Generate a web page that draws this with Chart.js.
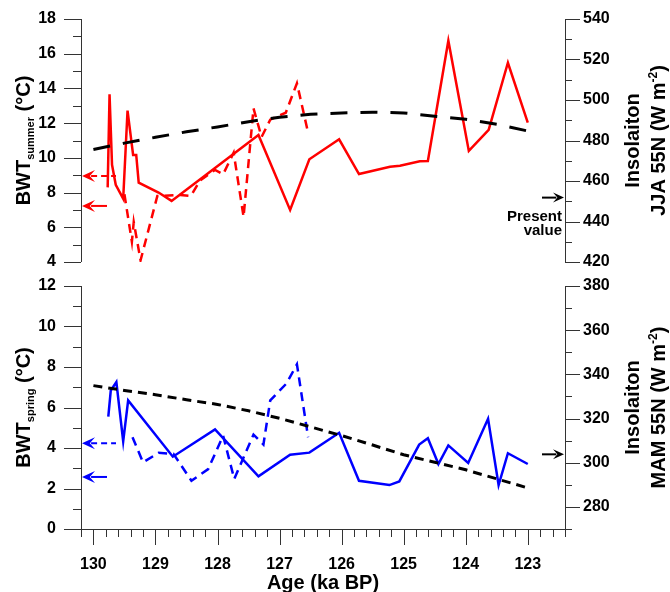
<!DOCTYPE html>
<html lang="en">
<head>
<meta charset="UTF-8">
<title>BWT and insolation, last interglacial</title>
<script src="https://cdn.jsdelivr.net/npm/chart.js@4.4.1/dist/chart.umd.min.js"></script>
<style>
  body { margin: 0; background: #fff; }
  #wrap { position: relative; width: 670px; height: 592px; }
  #top { position: absolute; left: 0; top: 0; }
  #bot { position: absolute; left: 0; top: 270px; }
</style>
</head>
<body>
<div id="wrap">
  <canvas id="top" width="670" height="280"></canvas>
  <canvas id="bot" width="670" height="322"></canvas>
</div>
<script>
// ---- data ----
var xTicks = [130, 129, 128, 127, 126, 125, 124, 123];
var sumTicks = [4, 6, 8, 10, 12, 14, 16, 18];
var jjaTicks = [420, 440, 460, 480, 500, 520, 540];
var sprTicks = [0, 2, 4, 6, 8, 10, 12];
var mamTicks = [280, 300, 320, 340, 360, 380];

// BWT summer, solid record
var ageSumSolid = [129.77, 129.74, 129.70, 129.64, 129.52, 129.45, 129.36, 129.31, 129.27, 128.95, 128.74, 127.34, 126.83, 126.52, 126.04, 125.72, 125.22, 125.06, 124.74, 124.61, 124.28, 123.95, 123.63, 123.32, 123.00];
var bwtSumSolid = [8.3, 13.66, 9.6, 8.45, 7.65, 12.72, 10.17, 10.17, 8.57, 8.0, 7.52, 11.32, 7.0, 9.92, 11.07, 9.07, 9.49, 9.55, 9.80, 9.82, 16.75, 10.40, 11.61, 15.48, 12.03];
// BWT summer, dashed record
var ageSumDash = [129.50, 129.38, 129.35, 129.24, 128.97, 128.60, 128.43, 128.28, 128.04, 127.91, 127.74, 127.58, 127.42, 127.29, 127.15, 126.90, 126.72, 126.54];
var bwtSumDash = [7.9, 5.17, 6.3, 4.1, 7.8, 7.86, 7.8, 8.7, 9.3, 9.05, 10.3, 6.6, 12.85, 11.2, 12.2, 12.6, 14.3, 11.45];

// BWT spring, solid record
var ageSprSolid = [129.76, 129.72, 129.63, 129.52, 129.44, 128.72, 128.04, 127.34, 126.83, 126.52, 126.04, 125.72, 125.23, 125.07, 124.75, 124.61, 124.44, 124.28, 123.96, 123.64, 123.47, 123.32, 123.00];
var bwtSprSolid = [5.55, 6.84, 7.26, 4.33, 6.35, 3.57, 4.92, 2.60, 3.67, 3.77, 4.75, 2.38, 2.17, 2.35, 4.17, 4.48, 3.21, 4.13, 3.26, 5.44, 2.17, 3.74, 3.21];
// BWT spring, dashed record
var ageSprDash = [129.37, 129.20, 128.95, 128.71, 128.42, 128.15, 127.91, 127.73, 127.42, 127.26, 127.15, 126.89, 126.72, 126.54];
var bwtSprDash = [4.53, 3.29, 3.76, 3.71, 2.38, 2.96, 4.61, 2.47, 4.66, 4.17, 6.35, 7.18, 8.13, 4.53];

// insolation 55N
var insAge = [130, 129.5, 129, 128.5, 128, 127.5, 127, 126.5, 126, 125.5, 125, 124.5, 124, 123.5, 123];
var insJJA = [475.6, 478.7, 481.6, 484.3, 486.7, 489.3, 491.5, 493.0, 493.6, 494.0, 493.6, 492.0, 490.5, 488.0, 484.7];
var insMAM = [334.9, 332.7, 330.8, 328.5, 326.4, 323.5, 320.1, 316.2, 312.3, 308.0, 303.6, 300.2, 296.8, 292.7, 288.6];

// present values (arrows)
var presentSum = [8.96, 7.23];   // dashed, solid
var presentSpr = [4.23, 2.57];   // dashed, solid
var presentJJA = 451.8;
var presentMAM = 303.8;

var xMin = 122.4, xMax = 130.2;
var RED = '#ff0000', BLUE = '#0000ff';
var FAM = '"Liberation Sans", Arial, Helvetica, sans-serif';
var AXC = '#333';

function pts(xs, ys) {
    return xs.map(function (x, i) { return { x: x, y: ys[i] }; });
}
function setTicks(arr) {
    return function (s) { s.ticks = arr.map(function (v) { return { value: v }; }); };
}

function arrow(ctx, tipX, y, dir, len, headLen, headW, color, dashed) {
    ctx.save();
    ctx.strokeStyle = color; ctx.fillStyle = color; ctx.lineWidth = 2;
    ctx.setLineDash(dashed ? [6, 4] : []);
    ctx.beginPath();
    ctx.moveTo(tipX - dir * headLen * 0.7, y);
    ctx.lineTo(tipX - dir * len, y);
    ctx.stroke();
    ctx.setLineDash([]);
    ctx.beginPath();
    ctx.moveTo(tipX, y);
    ctx.lineTo(tipX - dir * headLen, y - headW);
    ctx.lineTo(tipX - dir * headLen * 0.6, y);
    ctx.lineTo(tipX - dir * headLen, y + headW);
    ctx.closePath();
    ctx.fill();
    ctx.restore();
}

// parts: [text, font, baseline offset]
function vtitle(ctx, cx, cy, parts) {
    ctx.save();
    ctx.translate(cx, cy);
    ctx.rotate(-Math.PI / 2);
    ctx.fillStyle = '#000';
    ctx.textAlign = 'left';
    ctx.textBaseline = 'alphabetic';
    var total = 0;
    parts.forEach(function (p) { ctx.font = p[1]; p.w = ctx.measureText(p[0]).width; total += p.w; });
    var x = -total / 2;
    parts.forEach(function (p) { ctx.font = p[1]; ctx.fillText(p[0], x, p[2]); x += p.w; });
    ctx.restore();
}

function drawTicks(ctx, scale, vertical, side, minor, major, majLen, minLen) {
    for (var v = scale.min; v <= scale.max + 1e-6; v += minor) {
        var val = Math.round(v * 1000) / 1000;
        var isMajor = Math.abs(val / major - Math.round(val / major)) < 1e-6;
        var len = isMajor ? majLen : minLen;
        var p = Math.round(scale.getPixelForValue(val)) + 0.5;
        ctx.beginPath();
        if (vertical) {
            var x0 = side === 'left' ? scale.right : scale.left;
            ctx.moveTo(x0, p);
            ctx.lineTo(side === 'left' ? x0 - len : x0 + len, p);
        } else {
            ctx.moveTo(p, scale.top);
            ctx.lineTo(p, scale.top + len);
        }
        ctx.stroke();
    }
}

var deco = {
    id: 'deco',
    afterDraw: function (chart, args, o) {
        var ctx = chart.ctx, a = chart.chartArea;
        var yl = chart.scales.y, yr = chart.scales.y1;
        ctx.save();
        ctx.strokeStyle = AXC;
        ctx.lineWidth = 1;
        ctx.beginPath();
        ctx.moveTo(a.left + 0.5, a.top); ctx.lineTo(a.left + 0.5, a.bottom);
        ctx.moveTo(a.right + 0.5, a.top); ctx.lineTo(a.right + 0.5, a.bottom);
        if (o.xAxis) { ctx.moveTo(a.left, a.bottom + 0.5); ctx.lineTo(a.right + 1, a.bottom + 0.5); }
        ctx.stroke();
        drawTicks(ctx, yl, true, 'left', 1, 2, 17, 8);
        drawTicks(ctx, yr, true, 'right', 10, 20, 15, 7);
        if (o.xAxis) drawTicks(ctx, chart.scales.x, false, 'bottom', 0.2, 1, 16, 8);
        ctx.restore();

        // present-value arrows
        arrow(ctx, a.left + 1, yl.getPixelForValue(o.present[0]), -1, 34, 13, 6, o.color, true);
        arrow(ctx, a.left + 1, yl.getPixelForValue(o.present[1]), -1, 25, 13, 6, o.color, false);
        var py = yr.getPixelForValue(o.presentIns);
        arrow(ctx, a.right - 1, py, 1, 22, 11, 5, '#000', false);
        if (o.presentLabel) {
            ctx.save();
            ctx.fillStyle = '#000';
            ctx.font = 'bold 15px ' + FAM;
            ctx.textAlign = 'right';
            ctx.fillText('Present', a.right - 3, py + 23);
            ctx.fillText('value', a.right - 3, py + 37);
            ctx.restore();
        }

        // axis titles
        var cy = (a.top + a.bottom) / 2;
        var big = 'bold 20px ' + FAM, small = 'bold 12px ' + FAM;
        vtitle(ctx, 23, cy, [['BWT', big, 7], [o.sub, 'bold 11px ' + FAM, 11], [' (\u00B0C)', big, 7]]);
        vtitle(ctx, 632, cy, [['Insolaiton', big, 7]]);
        vtitle(ctx, 658, cy, [[o.season + ' 55N (W m', big, 7], ['-2', small, -1], [')', big, 7]]);
        if (o.xAxis) {
            ctx.save();
            ctx.fillStyle = '#000';
            ctx.font = big;
            ctx.textAlign = 'center';
            ctx.textBaseline = 'middle';
            ctx.fillText('Age (ka BP)', (a.left + a.right) / 2, a.bottom + 54);
            ctx.restore();
        }
    }
};

function lineDs(data, color, dash, yAxisID, width) {
    return {
        data: data, borderColor: color, backgroundColor: color, borderWidth: width || 2.5,
        borderDash: dash, pointRadius: 0, tension: 0, fill: false, yAxisID: yAxisID
    };
}

function tickFont() { return { family: FAM, size: 16, weight: 'bold' }; }

// invisible tick marks only used to offset the labels from the axis line
function spacer(len) {
    return { display: true, drawOnChartArea: false, drawTicks: true, tickLength: len, tickColor: 'rgba(0,0,0,0)' };
}

function makeChart(id, cfg) {
    return new Chart(document.getElementById(id), {
        type: 'line',
        data: { datasets: cfg.datasets },
        options: {
            responsive: false,
            animation: false,
            layout: { padding: cfg.padding },
            plugins: { legend: { display: false }, tooltip: { enabled: false }, deco: cfg.deco },
            scales: {
                x: {
                    type: 'linear', min: xMin, max: xMax, reverse: true, display: cfg.showX,
                    afterBuildTicks: setTicks(xTicks),
                    afterFit: function (s) { s.height = cfg.showX ? 63 : 0; },
                    grid: spacer(26), border: { display: false },
                    ticks: { font: tickFont(), color: '#000', padding: 0, maxRotation: 0 }
                },
                y: {
                    type: 'linear', position: 'left', min: cfg.yl[0], max: cfg.yl[1],
                    afterBuildTicks: setTicks(cfg.ylTicks),
                    afterFit: function (s) { s.width = 81; },
                    grid: spacer(25), border: { display: false },
                    ticks: { font: tickFont(), color: '#000', padding: 0 }
                },
                y1: {
                    type: 'linear', position: 'right', min: cfg.yr[0], max: cfg.yr[1],
                    afterBuildTicks: setTicks(cfg.yrTicks),
                    afterFit: function (s) { s.width = 105; },
                    grid: spacer(18), border: { display: false },
                    ticks: { font: tickFont(), color: '#000', padding: 0 }
                }
            }
        },
        plugins: [deco]
    });
}

makeChart('top', {
    padding: { top: 19, bottom: 18, left: 0, right: 0 },
    showX: false,
    yl: [4, 18], ylTicks: sumTicks,
    yr: [420, 540], yrTicks: jjaTicks,
    datasets: [
        lineDs(pts(insAge, insJJA), '#000', [17, 13], 'y1', 3),
        lineDs(pts(ageSumDash, bwtSumDash), RED, [9, 6], 'y'),
        lineDs(pts(ageSumSolid, bwtSumSolid), RED, [], 'y')
    ],
    deco: { xAxis: false, color: RED, present: presentSum, presentIns: presentJJA, presentLabel: true, sub: 'summer', season: 'JJA' }
});

makeChart('bot', {
    padding: { top: 16, bottom: 0, left: 0, right: 0 },
    showX: true,
    yl: [0, 12], ylTicks: sprTicks,
    yr: [270, 380], yrTicks: mamTicks,
    datasets: [
        lineDs(pts(insAge, insMAM), '#000', [9, 6], 'y1', 3),
        lineDs(pts(ageSprDash, bwtSprDash), BLUE, [9, 6], 'y'),
        lineDs(pts(ageSprSolid, bwtSprSolid), BLUE, [], 'y')
    ],
    deco: { xAxis: true, color: BLUE, present: presentSpr, presentIns: presentMAM, presentLabel: false, sub: 'spring', season: 'MAM' }
});
</script>
</body>
</html>
